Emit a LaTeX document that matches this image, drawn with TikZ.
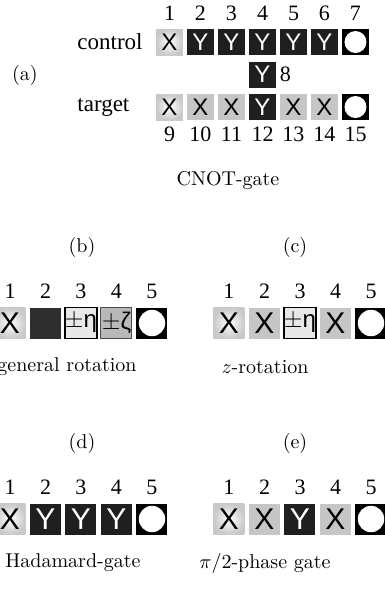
\documentclass[tikz,border=0pt]{standalone}
\usepackage{fontspec}
\newfontfamily\tms{Liberation Serif}
\newfontfamily\hlv{Liberation Sans}
\begin{document}
\begin{tikzpicture}[x=0.5pt,y=-0.5pt]
\tikzset{
  cell/.style={minimum width=13.5pt, minimum height=13pt, inner sep=0pt,
               font=\hlv\fontsize{12}{12}\selectfont},
  bigcell/.style={minimum width=15.5pt, minimum height=15.5pt, inner sep=0pt,
               font=\hlv\fontsize{15}{15}\selectfont},
  xw/.style={inner color=white, outer color=gray!42},
  xg/.style={fill=gray!45},
  yb/.style={fill=black!88, text=white},
  dk/.style={fill=black!82},
  eta/.style={fill=gray!18, draw=black, line width=0.7pt, font=\hlv\fontsize{12}{12}\selectfont},
  zeta/.style={fill=gray!55, draw=black!70, line width=0.5pt, font=\hlv\fontsize{12}{12}\selectfont},
  idle/.style={fill=black, path picture={\fill[white] (path picture bounding box.center) circle (#1);}},
  idle/.default=5.5pt,
  digit/.style={font=\tms\fontsize{11}{11}\selectfont, inner sep=0pt},
  rowname/.style={font=\tms\fontsize{11.5}{11.5}\selectfont, inner sep=0pt, anchor=west},
  plab/.style={font=\fontsize{10}{12}\selectfont, inner sep=0pt},
  capt/.style={font=\fontsize{10}{12}\selectfont, inner sep=0pt}
}
\useasboundingbox (0,0) rectangle (385,591);

% ---------- (a) CNOT gate ----------
\node[plab] (la) at (25,75) {(a)};
\foreach \k/\x in {1/169.5,2/200.5,3/231.5,4/262.5,5/293.5,6/324.5,7/355.5}
  \node[digit] (ta\k) at (\x,13) {\k};
\node[rowname] (ctl) at (77,42) {control};
\node[rowname] (tgt) at (77,107) {target};
\node[cell,xw] (c1) at (169.5,42) {X};
\node[cell,yb] (c2) at (200.5,42) {Y};
\node[cell,yb] (c3) at (231.5,42) {Y};
\node[cell,yb] (c4) at (262.5,42) {Y};
\node[cell,yb] (c5) at (293.5,42) {Y};
\node[cell,yb] (c6) at (324.5,42) {Y};
\node[cell,idle] (c7) at (355.5,42) {};
\node[cell,yb] (m8) at (262.5,74.5) {Y};
\node[digit,anchor=west] (n8) at (m8.east) [xshift=1.5pt] {8};
\node[cell,xw] (t9) at (169.5,107) {X};
\node[cell,xg] (t10) at (200.5,107) {X};
\node[cell,xg] (t11) at (231.5,107) {X};
\node[cell,yb] (t12) at (262.5,107) {Y};
\node[cell,xg] (t13) at (293.5,107) {X};
\node[cell,xg] (t14) at (324.5,107) {X};
\node[cell,idle] (t15) at (355.5,107) {};
\foreach \k/\x in {9/169.5,10/200.5,11/231.5,12/262.5,13/293.5,14/324.5,15/355.5}
  \node[digit] (ba\k) at (\x,134) {\k};
\node[capt] (capa) at (228,181) {CNOT-gate};

% ---------- (b) general rotation ----------
\node[plab] (lb) at (82,247) {(b)};
\foreach \k/\x in {1/10,2/45.5,3/81,4/116.5,5/152}
  \node[digit] (nb\k) at (\x,291) {\k};
\node[bigcell,xw] (b1) at (10,323) {X};
\node[bigcell,dk] (b2) at (45.5,323) {};
\node[bigcell,eta] (b3) at (81,323) {$\pm$η};
\node[bigcell,zeta] (b4) at (116.5,323) {$\pm$ζ};
\node[bigcell,idle=6.6pt] (b5) at (152,323) {};
\node[capt] (capb) at (67,367) {general rotation};

% ---------- (c) z-rotation ----------
\node[plab] (lc) at (295,247) {(c)};
\foreach \k/\x in {1/229,2/264.5,3/300,4/335.5,5/371}
  \node[digit] (nc\k) at (\x,291) {\k};
\node[bigcell,xw] (z1) at (229,323) {X};
\node[bigcell,xg] (z2) at (264.5,323) {X};
\node[bigcell,eta] (z3) at (300,323) {$\pm$η};
\node[bigcell,xg] (z4) at (335.5,323) {X};
\node[bigcell,idle=6.6pt] (z5) at (371,323) {};
\node[capt] (capc) at (265,367) {$z$-rotation};

% ---------- (d) Hadamard gate ----------
\node[plab] (ld) at (82,443) {(d)};
\foreach \k/\x in {1/10,2/45.5,3/81,4/116.5,5/152}
  \node[digit] (nd\k) at (\x,487) {\k};
\node[bigcell,xw] (h1) at (10,519) {X};
\node[bigcell,yb] (h2) at (45.5,519) {Y};
\node[bigcell,yb] (h3) at (81,519) {Y};
\node[bigcell,yb] (h4) at (116.5,519) {Y};
\node[bigcell,idle=6.6pt] (h5) at (152,519) {};
\node[capt] (capd) at (73,563) {Hadamard-gate};

% ---------- (e) pi/2 phase gate ----------
\node[plab] (le) at (295,443) {(e)};
\foreach \k/\x in {1/229,2/264.5,3/300,4/335.5,5/371}
  \node[digit] (ne\k) at (\x,487) {\k};
\node[bigcell,xw] (p1) at (229,519) {X};
\node[bigcell,xg] (p2) at (264.5,519) {X};
\node[bigcell,yb] (p3) at (300,519) {Y};
\node[bigcell,xg] (p4) at (335.5,519) {X};
\node[bigcell,idle=6.6pt] (p5) at (371,519) {};
\node[capt] (cape) at (265,563) {$\pi/2$-phase gate};
\end{tikzpicture}
\end{document}
